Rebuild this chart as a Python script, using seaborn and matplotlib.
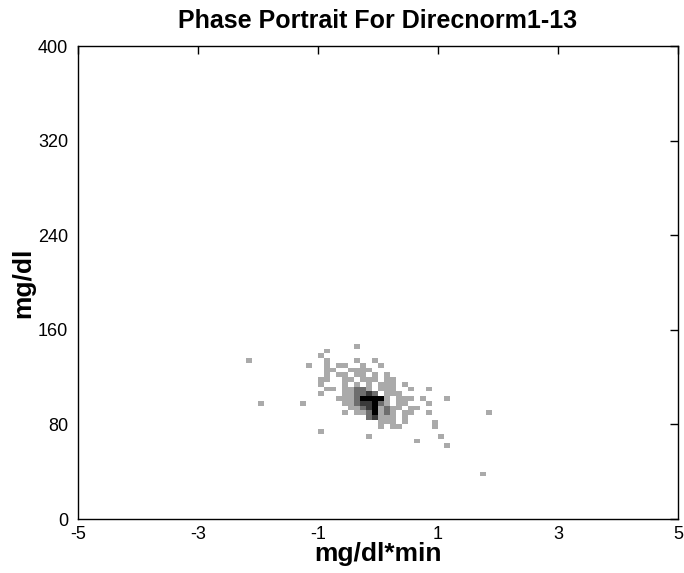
import matplotlib
matplotlib.use("Agg")
import matplotlib.pyplot as plt
from matplotlib.colors import ListedColormap
import numpy as np
import pandas as pd
import seaborn as sns

# ---------------- data ----------------
title = "Phase Portrait For Direcnorm1-13"
x_label = "mg/dl*min"
y_label = "mg/dl"
x_ticks = [-5, -3, -1, 1, 3, 5]
y_ticks = [0, 80, 160, 240, 320, 400]

# bin layout of the 2-D histogram
x_range = (-5, 5)
y_range = (0, 400)
n_bins = (100, 100)          # 0.1 mg/dl*min by 4 mg/dl

# counts per cell: one string per glucose row (bin centre in mg/dl),
# one character per rate-of-change column, starting at x = -2.15, step 0.1
grid_x_start = -2.15
grid_x_step = 0.1
grid_y = [146, 142, 138, 134, 130, 126, 122, 118, 114, 110, 106, 102, 98, 94,
          90, 86, 82, 78, 74, 70, 66, 62, 58, 54, 50, 46, 42, 38]
grid_rows = [
    ".........." + "........1." + ".........." + ".........." + "..",  # 146
    ".........." + "...1......" + ".........." + ".........." + "..",  # 142
    ".........." + "..1......." + ".........." + ".........." + "..",  # 138
    "1........." + "...1....1." + ".1........" + ".........." + "..",  # 134
    ".........." + "1..1.11..1" + "..1......." + ".........." + "..",  # 130
    ".........." + "...11..111" + "1........." + ".........." + "..",  # 126
    ".........." + "...1.11.11" + ".1.1......" + ".........." + "..",  # 122
    ".........." + "..11..11.1" + "11.11....." + ".........." + "..",  # 118
    ".........." + "..1...1.1." + "1.111.1..." + ".........." + "..",  # 114
    ".........." + "...11.1122" + "1.111..1.." + "1........." + "..",  # 110
    ".........." + "..1...1122" + "32.111...." + ".........." + "..",  # 106
    ".........." + ".....11124" + "4441.111.1" + "...1......" + "..",  # 102
    "..1......1" + "......1123" + "3421.11..." + "1........." + "..",  # 98
    ".........." + ".......112" + "341211.11." + ".........." + "..",  # 94
    ".........." + "......1.11" + "24121.11.." + "1........." + "1.",  # 90
    ".........." + ".........." + "23111.1..." + ".........." + "..",  # 86
    ".........." + ".........." + "..111.1..." + ".1........" + "..",  # 82
    ".........." + ".........." + "..1.11...." + ".1........" + "..",  # 78
    ".........." + "..1......." + ".........." + ".........." + "..",  # 74
    ".........." + ".........." + "1........." + "..1......." + "..",  # 70
    ".........." + ".........." + "........1." + ".........." + "..",  # 66
    ".........." + ".........." + ".........." + "...1......" + "..",  # 62
    ".........." + ".........." + ".........." + ".........." + "..",  # 58
    ".........." + ".........." + ".........." + ".........." + "..",  # 54
    ".........." + ".........." + ".........." + ".........." + "..",  # 50
    ".........." + ".........." + ".........." + ".........." + "..",  # 46
    ".........." + ".........." + ".........." + ".........." + "..",  # 42
    ".........." + ".........." + ".........." + ".........1" + "..",  # 38
]
count_colors = ["#aaaaaa", "#6e6e6e", "#3a3a3a", "#000000"]   # counts 1..4

# ---------------- build the long table ----------------
xs, ys, ws = [], [], []
for yv, row in zip(grid_y, grid_rows):
    for k, ch in enumerate(row):
        if ch.isdigit() and ch != "0":
            xs.append(round(grid_x_start + k * grid_x_step, 3))
            ys.append(yv)
            ws.append(int(ch))
df = pd.DataFrame({"rate": xs, "glucose": ys, "count": ws})

# ---------------- figure ----------------
sns.set_theme(style="white")
plt.rcParams["font.family"] = ["Liberation Sans", "DejaVu Sans"]
plt.rcParams["text.color"] = "black"
plt.rcParams["axes.labelcolor"] = "black"
plt.rcParams["xtick.color"] = "black"
plt.rcParams["ytick.color"] = "black"

fig = plt.figure(figsize=(6.84, 5.73), dpi=100)
ax = fig.add_axes([0.114, 0.0942, 0.877, 0.8255])

sns.histplot(data=df, x="rate", y="glucose", weights="count",
             bins=n_bins, binrange=(x_range, y_range),
             cmap=ListedColormap(count_colors), vmin=0.5, vmax=4.5,
             ax=ax)

ax.set_xlim(*x_range)
ax.set_ylim(*y_range)
ax.set_xticks(x_ticks)
ax.set_yticks(y_ticks)
ax.set_xticklabels([str(t) for t in x_ticks])
ax.set_yticklabels([str(t) for t in y_ticks])
ax.tick_params(direction="in", length=6, width=1, colors="black",
               labelcolor="black", labelsize=13, top=True, right=True, pad=5)
ax.tick_params(axis="y", pad=7)
for s in ax.spines.values():
    s.set_visible(True)
    s.set_color("black")
    s.set_linewidth(1.0)
ax.set_facecolor("white")
ax.grid(False)

ax.set_xlabel(x_label, fontsize=19, fontweight="bold", labelpad=-1,
              color="black")
ax.set_ylabel(y_label, fontsize=19, fontweight="bold", labelpad=2,
              color="black")
ax.set_title(title, fontsize=18, fontweight="bold", pad=13, color="black")

fig.savefig("out.png", dpi=100, facecolor="white")
